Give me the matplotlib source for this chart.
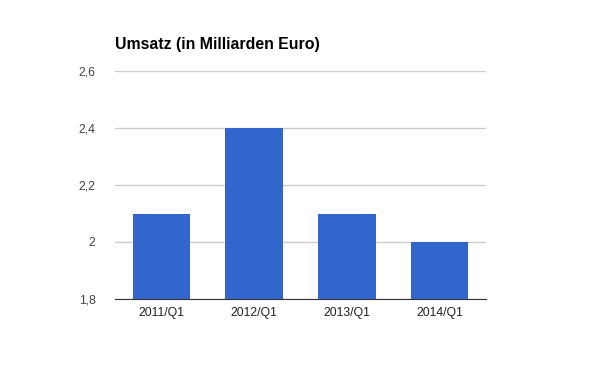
import matplotlib
matplotlib.use("Agg")
import matplotlib.pyplot as plt

plt.rcParams['font.family'] = ['Liberation Sans', 'DejaVu Sans']

quarters = ['2011/Q1', '2012/Q1', '2013/Q1', '2014/Q1']
umsatz = [2.1, 2.4, 2.1, 2.0]
y_ticks = [1.8, 2.0, 2.2, 2.4, 2.6]
y_labels = ['1,8', '2', '2,2', '2,4', '2,6']

fig = plt.figure(figsize=(6.0, 3.71), dpi=100)
ax = fig.add_axes([115 / 600, 1 - 299 / 371, 371 / 600, 228 / 371])

x = range(len(quarters))
ax.bar(x, umsatz, width=0.62, color='#3366cc', zorder=2)

ax.set_xlim(-0.5, len(quarters) - 0.5)
ax.set_ylim(1.8, 2.6)
ax.set_yticks(y_ticks)
ax.set_yticklabels(y_labels)
ax.set_xticks(list(x))
ax.set_xticklabels(quarters)

ax.grid(axis='y', color='#cccccc', lw=1, zorder=0)
for s in ['top', 'right', 'left']:
    ax.spines[s].set_visible(False)
ax.spines['bottom'].set_color('#333333')
ax.spines['bottom'].set_zorder(3)
ax.tick_params(axis='both', length=0, labelsize=8.8)
ax.tick_params(axis='y', pad=14, colors='#444444')
ax.tick_params(axis='x', pad=6, colors='#222222')

fig.text(115 / 600, 1 - 45 / 371, 'Umsatz (in Milliarden Euro)', fontsize=11.4,
         fontweight='bold', ha='left', va='center', color='#000000')

fig.savefig('out.png', dpi=100)
